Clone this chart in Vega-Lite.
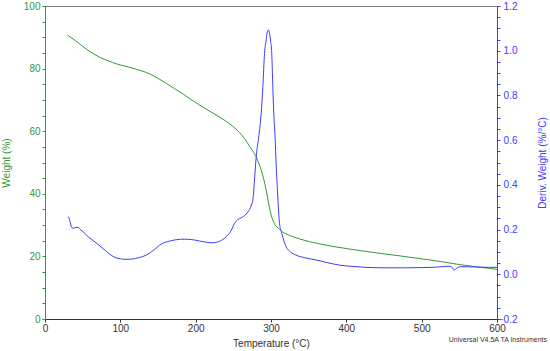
{
  "$schema": "https://vega.github.io/schema/vega-lite/v6.json",
  "width": 550,
  "height": 351,
  "autosize": {"type": "fit", "contains": "padding"},
  "padding": {"left": 1, "top": 1, "right": 3, "bottom": 3},
  "background": "white",
  "config": {
    "font": "Liberation Sans",
    "view": {"stroke": "#808080", "strokeWidth": 1}
  },
  "title": {
    "text": "Universal V4.5A TA Instruments",
    "orient": "bottom",
    "anchor": "end",
    "fontSize": 7,
    "fontWeight": "normal",
    "color": "#333333",
    "offset": -12
  },
  "datasets": {
    "weight": [
      {"T": 30, "W": 90.7}, {"T": 40, "W": 89.0}, {"T": 50, "W": 87.1}, {"T": 60, "W": 85.4},
      {"T": 72.8, "W": 83.6}, {"T": 85, "W": 82.4}, {"T": 95, "W": 81.5}, {"T": 106, "W": 80.8},
      {"T": 117, "W": 80.1}, {"T": 128, "W": 79.3}, {"T": 139, "W": 78.3}, {"T": 150, "W": 76.9},
      {"T": 161, "W": 75.3}, {"T": 172, "W": 73.6}, {"T": 183, "W": 71.9}, {"T": 194, "W": 70.1},
      {"T": 205, "W": 68.4}, {"T": 215, "W": 66.9}, {"T": 225, "W": 65.5}, {"T": 235, "W": 64.0},
      {"T": 245, "W": 62.4}, {"T": 252, "W": 61.0}, {"T": 258, "W": 59.6}, {"T": 265, "W": 57.6},
      {"T": 271.5, "W": 55.2}, {"T": 276, "W": 53.6}, {"T": 280.4, "W": 51.8}, {"T": 284, "W": 49.6},
      {"T": 287, "W": 47.6}, {"T": 290, "W": 45.0}, {"T": 293.6, "W": 41.2}, {"T": 296, "W": 38.0},
      {"T": 298, "W": 35.5}, {"T": 300, "W": 33.4}, {"T": 302.4, "W": 31.6}, {"T": 305, "W": 30.2},
      {"T": 308, "W": 29.4}, {"T": 311.3, "W": 28.7}, {"T": 315, "W": 27.9}, {"T": 320, "W": 27.2},
      {"T": 328.9, "W": 26.3}, {"T": 337.7, "W": 25.6}, {"T": 351, "W": 24.7}, {"T": 365, "W": 24.0},
      {"T": 381.9, "W": 23.2}, {"T": 400, "W": 22.5}, {"T": 426, "W": 21.6}, {"T": 443.7, "W": 21.0},
      {"T": 470, "W": 20.2}, {"T": 487.8, "W": 19.6}, {"T": 510, "W": 18.9}, {"T": 532, "W": 18.1},
      {"T": 550, "W": 17.4}, {"T": 571.8, "W": 16.7}, {"T": 585, "W": 16.3}, {"T": 596, "W": 16.0},
      {"T": 600, "W": 15.8}
    ],
    "deriv": [
      {"T": 30.9, "D": 0.258}, {"T": 32.5, "D": 0.245}, {"T": 34, "D": 0.225}, {"T": 35.3, "D": 0.21},
      {"T": 37.5, "D": 0.206}, {"T": 40, "D": 0.209}, {"T": 44, "D": 0.21}, {"T": 47, "D": 0.2},
      {"T": 50.7, "D": 0.19}, {"T": 57.3, "D": 0.168}, {"T": 65, "D": 0.148}, {"T": 72.8, "D": 0.127},
      {"T": 80, "D": 0.107}, {"T": 86, "D": 0.09}, {"T": 92.7, "D": 0.076}, {"T": 100, "D": 0.069},
      {"T": 106, "D": 0.067}, {"T": 115, "D": 0.068}, {"T": 125, "D": 0.075}, {"T": 134.7, "D": 0.086},
      {"T": 145, "D": 0.11}, {"T": 154.6, "D": 0.136}, {"T": 165, "D": 0.148}, {"T": 175, "D": 0.155},
      {"T": 185, "D": 0.157}, {"T": 195, "D": 0.155}, {"T": 205, "D": 0.149}, {"T": 215, "D": 0.143},
      {"T": 223, "D": 0.141}, {"T": 232, "D": 0.148}, {"T": 240.6, "D": 0.168}, {"T": 247, "D": 0.195},
      {"T": 251.7, "D": 0.228}, {"T": 256, "D": 0.245}, {"T": 260, "D": 0.252}, {"T": 264.9, "D": 0.262},
      {"T": 269, "D": 0.278}, {"T": 271.5, "D": 0.29}, {"T": 274, "D": 0.31}, {"T": 276, "D": 0.335},
      {"T": 278.1, "D": 0.422}, {"T": 280.4, "D": 0.526}, {"T": 283.9, "D": 0.62}, {"T": 287, "D": 0.72},
      {"T": 289.2, "D": 0.839}, {"T": 291.4, "D": 0.988}, {"T": 293.6, "D": 1.048}, {"T": 295.2, "D": 1.085},
      {"T": 296.7, "D": 1.093}, {"T": 298, "D": 1.08}, {"T": 299.3, "D": 1.048}, {"T": 301, "D": 0.988},
      {"T": 302.4, "D": 0.839}, {"T": 303.7, "D": 0.72}, {"T": 305.6, "D": 0.6}, {"T": 306.8, "D": 0.496},
      {"T": 309, "D": 0.347}, {"T": 311.3, "D": 0.228}, {"T": 314.3, "D": 0.183}, {"T": 320, "D": 0.124},
      {"T": 326, "D": 0.1}, {"T": 333, "D": 0.086}, {"T": 345, "D": 0.074}, {"T": 360, "D": 0.064},
      {"T": 375, "D": 0.052}, {"T": 390.7, "D": 0.041}, {"T": 410, "D": 0.035}, {"T": 426, "D": 0.031},
      {"T": 450, "D": 0.029}, {"T": 480, "D": 0.029}, {"T": 500, "D": 0.03}, {"T": 520, "D": 0.032},
      {"T": 535, "D": 0.036}, {"T": 540, "D": 0.033}, {"T": 543, "D": 0.019}, {"T": 547, "D": 0.028},
      {"T": 552, "D": 0.034}, {"T": 570, "D": 0.033}, {"T": 590, "D": 0.031}, {"T": 600, "D": 0.031}
    ]
  },
  "layer": [
    {
      "data": {"name": "weight"},
      "mark": {"type": "line", "color": "#339933", "strokeWidth": 1, "interpolate": "monotone"},
      "encoding": {
        "x": {
          "field": "T",
          "type": "quantitative",
          "scale": {"domain": [0, 600], "nice": false, "zero": false},
          "axis": {
            "title": "Temperature (°C)",
            "values": [0, 25, 50, 75, 100, 125, 150, 175, 200, 225, 250, 275, 300, 325, 350, 375, 400, 425, 450, 475, 500, 525, 550, 575, 600],
            "labelExpr": "datum.value % 100 == 0 ? datum.label : ''",
            "labelOverlap": false,
            "labelFlush": false,
            "grid": false,
            "tickSize": 3,
            "tickColor": "#333333",
            "domainColor": "#333333",
            "labelColor": "#333333",
            "labelFontSize": 10,
            "labelPadding": 1,
            "titleFontSize": 10,
            "titleFontWeight": "normal",
            "titleColor": "#333333",
            "titlePadding": 5
          }
        },
        "y": {
          "field": "W",
          "type": "quantitative",
          "scale": {"domain": [0, 100], "nice": false},
          "axis": {
            "title": "Weight (%)",
            "values": [0, 5, 10, 15, 20, 25, 30, 35, 40, 45, 50, 55, 60, 65, 70, 75, 80, 85, 90, 95, 100],
            "labelExpr": "datum.value % 20 == 0 ? datum.label : ''",
            "labelOverlap": false,
            "grid": false,
            "tickSize": 3,
            "tickColor": "#339933",
            "domainColor": "#339933",
            "labelColor": "#339933",
            "labelFontSize": 10,
            "labelPadding": 2,
            "titleFontSize": 10,
            "titleFontWeight": "normal",
            "titleColor": "#339933",
            "titlePadding": 12
          }
        }
      }
    },
    {
      "data": {"name": "deriv"},
      "mark": {"type": "line", "color": "#3c3cff", "strokeWidth": 1, "interpolate": "monotone"},
      "encoding": {
        "x": {"field": "T", "type": "quantitative"},
        "y": {
          "field": "D",
          "type": "quantitative",
          "scale": {"domain": [-0.2, 1.2], "nice": false, "zero": false},
          "axis": {
            "orient": "right",
            "title": "Deriv. Weight (%/°C)",
            "values": [-0.2, -0.15, -0.1, -0.05, 0, 0.05, 0.1, 0.15, 0.2, 0.25, 0.3, 0.35, 0.4, 0.45, 0.5, 0.55, 0.6, 0.65, 0.7, 0.75, 0.8, 0.85, 0.9, 0.95, 1.0, 1.05, 1.1, 1.15, 1.2],
            "labelExpr": "abs(round(datum.value * 5) - datum.value * 5) < 0.001 ? format(datum.value, '.1f') : ''",
            "labelOverlap": false,
            "labelAlign": "right",
            "labelPadding": 17,
            "grid": false,
            "tickSize": 3,
            "tickColor": "#3c3cff",
            "domainColor": "#3c3cff",
            "labelColor": "#3c3cff",
            "labelFontSize": 10,
            "titleFontSize": 10,
            "titleFontWeight": "normal",
            "titleColor": "#3c3cff",
            "titleAngle": 270,
            "titleBaseline": "top",
            "titlePadding": 20
          }
        }
      }
    }
  ],
  "resolve": {"scale": {"y": "independent"}}
}
